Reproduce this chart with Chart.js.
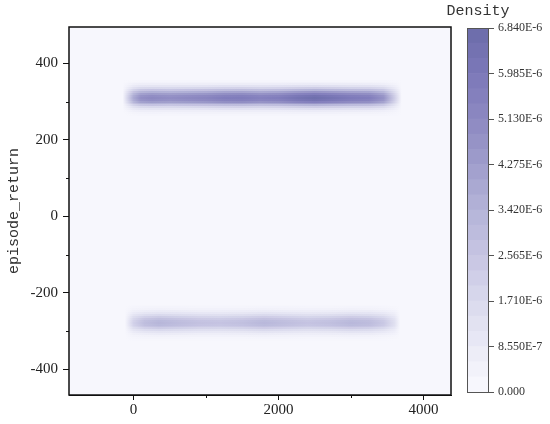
<!DOCTYPE html>
<html>
<head>
<meta charset="utf-8">
<script src="https://cdn.jsdelivr.net/npm/chart.js@4.4.1/dist/chart.umd.min.js"></script>
<style>
  html, body { margin: 0; padding: 0; background: #fff; }
  #wrap { position: relative; width: 550px; height: 424px; }
  #wrap canvas { position: absolute; left: 0; top: 0; }
</style>
</head>
<body>
<div id="wrap">
  <canvas id="main" width="550" height="424"></canvas>
  <canvas id="cbar" width="550" height="424"></canvas>
</div>
<script>
// --- data ---
const X_TICKS = [0, 2000, 4000];
const X_MINOR = [1000, 3000];
const Y_TICKS = [-400, -200, 0, 200, 400];
const Y_MINOR = [-300, -100, 100, 300];

// upper band (episode_return ~ 310), density along the band ridge (x 1e-6)
const UPPER_Y = 310;
const UPPER_X = [-150, 0, 100, 250, 500, 750, 1000, 1250, 1500, 1750, 2000, 2250, 2500, 2750, 3000, 3250, 3450, 3600, 3700];
const UPPER_PEAK = [0, 3.8, 4.9, 5.2, 5.0, 5.2, 5.4, 5.8, 5.9, 5.6, 5.8, 6.4, 6.8, 6.4, 6.0, 5.8, 4.8, 2.2, 0];

// lower band (episode_return ~ -278)
const LOWER_Y = -278;
const LOWER_X = [-120, 0, 150, 350, 600, 900, 1200, 1500, 1800, 2100, 2400, 2700, 3000, 3250, 3450, 3600, 3680];
const LOWER_PEAK = [0, 2.0, 2.9, 3.3, 3.0, 2.7, 2.6, 2.8, 3.2, 2.9, 2.6, 2.8, 3.2, 3.0, 2.4, 1.3, 0];

// share of ridge density at a distance from the ridge (episode_return units)
const PROFILE_OFFSET = [0, 5, 10, 15, 20, 25, 30, 35, 40, 45];
const PROFILE_SHARE = [1, 0.96, 0.85, 0.69, 0.5, 0.33, 0.2, 0.1, 0.05, 0.02];

// colorbar
const CBAR_MAX = 6.84e-6;
const CBAR_TICKS = [0, 8.55e-7, 1.71e-6, 2.565e-6, 3.42e-6, 4.275e-6, 5.13e-6, 5.985e-6, 6.84e-6];
const CBAR_LABELS = ['0.000', '8.550E-7', '1.710E-6', '2.565E-6', '3.420E-6', '4.275E-6', '5.130E-6', '5.985E-6', '6.840E-6'];
const N_LEVELS = 24;

// colour ramp (light -> dark purple)
const CMAP = [
  [0, [247, 247, 253]], [0.125, [232, 232, 245]], [0.25, [216, 216, 236]],
  [0.375, [198, 196, 226]], [0.5, [180, 180, 216]], [0.625, [160, 158, 204]],
  [0.75, [142, 138, 194]], [0.875, [126, 122, 186]], [1, [110, 110, 172]]
];

function cmap(t) {
  t = Math.max(0, Math.min(1, t));
  for (let i = 1; i < CMAP.length; i++) {
    if (t <= CMAP[i][0]) {
      const [t0, c0] = CMAP[i - 1], [t1, c1] = CMAP[i];
      const f = (t - t0) / (t1 - t0);
      return 'rgb(' + c0.map((c, k) => Math.round(c + (c1[k] - c) * f)).join(',') + ')';
    }
  }
  return 'rgb(' + CMAP[CMAP.length - 1][1].join(',') + ')';
}

const BANDS = [
  { y: UPPER_Y, x: UPPER_X, peak: UPPER_PEAK },
  { y: LOWER_Y, x: LOWER_X, peak: LOWER_PEAK }
];
const ROW_STEP = 5;

const densityPlugin = {
  id: 'density',
  beforeDatasetsDraw(chart) {
    const { ctx, chartArea: a } = chart;
    const xs = chart.scales.x, ys = chart.scales.y;
    ctx.save();
    ctx.beginPath();
    ctx.rect(a.left, a.top, a.right - a.left, a.bottom - a.top);
    ctx.clip();
    ctx.fillStyle = cmap(0);
    ctx.fillRect(a.left, a.top, a.right - a.left, a.bottom - a.top);
    BANDS.forEach(b => {
      const x0 = xs.getPixelForValue(b.x[0]);
      const x1 = xs.getPixelForValue(b.x[b.x.length - 1]);
      PROFILE_OFFSET.forEach((off, i) => {
        [1, -1].forEach(sgn => {
          if (i === 0 && sgn < 0) return;
          const yc = b.y + sgn * off;
          const yTop = Math.round(ys.getPixelForValue(yc + ROW_STEP / 2));
          const yBot = Math.round(ys.getPixelForValue(yc - ROW_STEP / 2));
          const g = ctx.createLinearGradient(x0, 0, x1, 0);
          b.x.forEach((xv, k) => {
            const d = b.peak[k] * 1e-6 * PROFILE_SHARE[i];
            g.addColorStop((xs.getPixelForValue(xv) - x0) / (x1 - x0), cmap(d / CBAR_MAX));
          });
          ctx.fillStyle = g;
          ctx.fillRect(x0, yTop, x1 - x0, yBot - yTop);
        });
      });
    });
    ctx.restore();
  },
  afterDraw(chart) {
    const { ctx, chartArea: a } = chart;
    const xs = chart.scales.x, ys = chart.scales.y;
    ctx.save();
    ctx.strokeStyle = '#111';
    ctx.lineWidth = 1.5;
    ctx.strokeRect(a.left, a.top, a.right - a.left, a.bottom - a.top);
    ctx.lineWidth = 1;
    ctx.beginPath();
    X_MINOR.forEach(v => {
      const px = Math.round(xs.getPixelForValue(v)) + 0.5;
      ctx.moveTo(px, a.bottom); ctx.lineTo(px, a.bottom + 3);
    });
    Y_MINOR.forEach(v => {
      const py = Math.round(ys.getPixelForValue(v)) + 0.5;
      ctx.moveTo(a.left, py); ctx.lineTo(a.left - 3, py);
    });
    ctx.stroke();
    ctx.restore();
  }
};

const tickFont = { family: "'Liberation Serif', 'DejaVu Serif', serif", size: 15 };

new Chart(document.getElementById('main'), {
  type: 'scatter',
  data: { datasets: [{ data: [] }] },
  options: {
    responsive: false,
    animation: false,
    layout: { padding: { left: 0, top: 27, right: 99, bottom: 0 } },
    plugins: { legend: { display: false }, tooltip: { enabled: false } },
    scales: {
      x: {
        type: 'linear', min: -890, max: 4380,
        afterBuildTicks: s => { s.ticks = X_TICKS.map(v => ({ value: v })); },
        afterFit: s => { s.height = 29; },
        ticks: { font: tickFont, color: '#222', padding: 1, maxRotation: 0, autoSkip: false, callback: v => String(v) },
        grid: { drawOnChartArea: false, tickLength: 5, color: '#111' },
        border: { display: true, color: '#111' }
      },
      y: {
        type: 'linear', min: -467, max: 495,
        afterBuildTicks: s => { s.ticks = Y_TICKS.map(v => ({ value: v })); },
        afterFit: s => { s.width = 69; },
        ticks: { font: tickFont, color: '#222', padding: 5, autoSkip: false, callback: v => String(v) },
        grid: { drawOnChartArea: false, tickLength: 6, color: '#111' },
        border: { display: true, color: '#111' },
        title: {
          display: true, text: 'episode_return', color: '#333',
          font: { family: "'Liberation Mono', 'DejaVu Sans Mono', monospace", size: 15 },
          padding: { top: 5, bottom: 0 }
        }
      }
    }
  },
  plugins: [densityPlugin]
});

// --- colorbar ---
const levelStep = CBAR_MAX / N_LEVELS;
const levelSets = [];
for (let i = 0; i < N_LEVELS; i++) {
  levelSets.push({
    data: [levelStep],
    backgroundColor: cmap(i / (N_LEVELS - 1)),
    borderWidth: 0,
    barPercentage: 1,
    categoryPercentage: 1
  });
}

const cbarPlugin = {
  id: 'cbarFrame',
  afterDraw(chart) {
    const { ctx, chartArea: a } = chart;
    ctx.save();
    ctx.strokeStyle = '#555';
    ctx.lineWidth = 1;
    ctx.strokeRect(a.left + 0.5, a.top + 0.5, a.right - a.left - 1, a.bottom - a.top);
    ctx.fillStyle = '#333';
    ctx.font = "15px 'Liberation Mono', 'DejaVu Sans Mono', monospace";
    ctx.textAlign = 'center';
    ctx.textBaseline = 'middle';
    ctx.fillText('Density', (a.left + a.right) / 2, 11);
    ctx.restore();
  }
};

new Chart(document.getElementById('cbar'), {
  type: 'bar',
  data: { labels: [''], datasets: levelSets },
  options: {
    responsive: false,
    animation: false,
    layout: { padding: { left: 467, top: 28, right: 0, bottom: 32 } },
    plugins: { legend: { display: false }, tooltip: { enabled: false } },
    scales: {
      x: { stacked: true, display: false },
      y: {
        stacked: true, position: 'right', min: 0, max: CBAR_MAX,
        afterBuildTicks: s => { s.ticks = CBAR_TICKS.map(v => ({ value: v })); },
        afterFit: s => { s.width = 61; },
        ticks: {
          callback: (v, i) => CBAR_LABELS[i],
          font: { family: "'Liberation Serif', 'DejaVu Serif', serif", size: 12 },
          color: '#333', padding: 4, autoSkip: false
        },
        grid: { drawOnChartArea: false, tickLength: 5, color: '#555' },
        border: { display: false }
      }
    }
  },
  plugins: [cbarPlugin]
});
</script>
</body>
</html>
